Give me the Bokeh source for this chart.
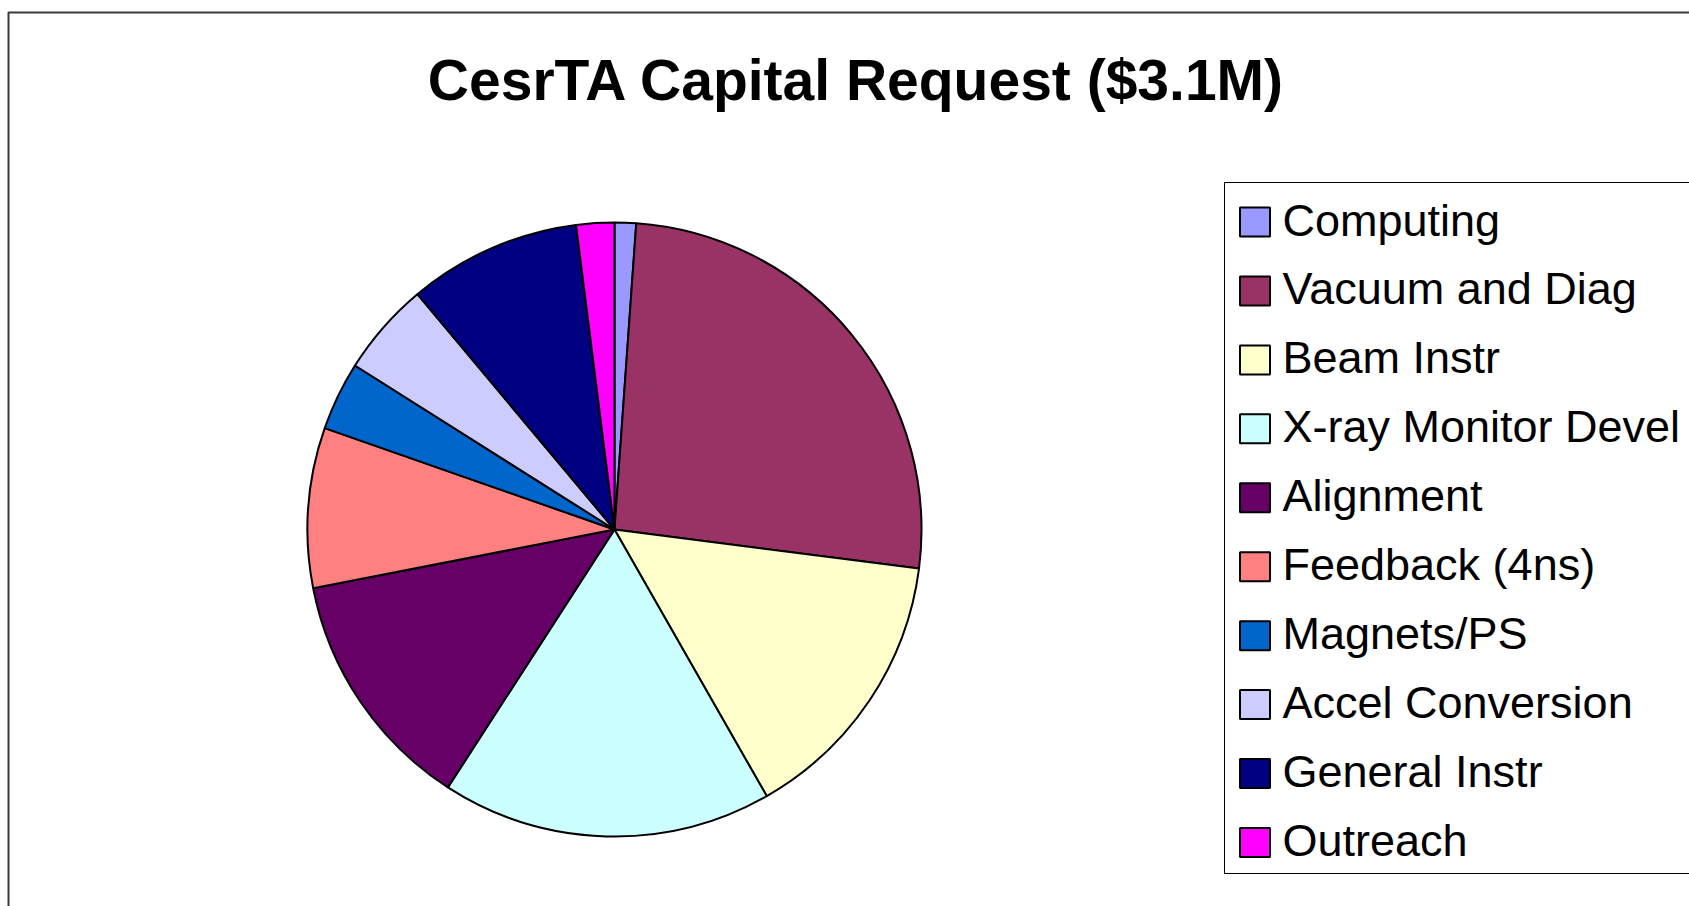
import math
from bokeh.plotting import figure
from bokeh.models import Range1d, ColumnDataSource
from bokeh.core.properties import value
from bokeh.embed import file_html
from bokeh.resources import INLINE

# ---- data (thousands of $, total ~ $3.1M) ----
categories = ["Computing", "Vacuum and Diag", "Beam Instr", "X-ray Monitor Devel",
              "Alignment", "Feedback (4ns)", "Magnets/PS", "Accel Conversion",
              "General Instr", "Outreach"]
amounts = [35, 803, 456, 539, 397, 261, 112, 153, 282, 62]
colors = ["#9999FF", "#993366", "#FFFFCC", "#CCFFFF", "#660066",
          "#FF8080", "#0066CC", "#CCCCFF", "#000080", "#FF00FF"]
title_text = "CesrTA Capital Request ($3.1M)"

W, H = 1689, 906
FONT = "Liberation Sans"

def Y(full_y):
    return H - full_y

def X(full_x):
    return full_x

p = figure(width=W, height=H, output_backend="svg", toolbar_location=None,
           x_range=Range1d(0, W), y_range=Range1d(0, H),
           x_axis_location=None, y_axis_location=None, min_border=0)
p.grid.visible = False
p.outline_line_color = None
p.background_fill_color = "white"
p.border_fill_color = "white"

# outer chart frame (only top/left visible within window)
p.line(x=[X(8), X(8), X(1800)], y=[Y(2000), Y(12), Y(12)],
       line_color="#3a3a3a", line_width=2)

# ---- pie ----
total = float(sum(amounts))
cum = [0.0]
for a in amounts:
    cum.append(cum[-1] + a / total * 2 * math.pi)
starts = [math.pi / 2 - cum[i + 1] for i in range(len(amounts))]
ends = [math.pi / 2 - cum[i] for i in range(len(amounts))]
src = ColumnDataSource(dict(start=starts, end=ends, color=colors, cat=categories))
cx, cy, r = X(614), Y(529), 307
p.wedge(x=cx, y=cy, radius=r, start_angle="start", end_angle="end",
        direction="anticlock", fill_color="color", line_color="black",
        line_width=2, source=src)

# ---- title ----
p.text(x=[X(856)], y=[Y(79)], text=[title_text], text_font=value(FONT),
       text_font_style="bold", text_font_size="57px", text_align="center",
       text_baseline="middle", text_color="black")

# ---- legend ----
p.quad(left=[X(1224)], right=[X(1800)], top=[Y(182)], bottom=[Y(873)],
       fill_color="white", line_color="black", line_width=1)
step = 68.94
n = len(categories)
sq_x = [X(1254.5)] * n
sq_y = [Y(221.5 + i * step) for i in range(n)]
p.rect(x=sq_x, y=sq_y, width=30, height=29, fill_color=colors,
       line_color="black", line_width=2)
tx = [X(1282)] * n
ty = [Y(219.5 + i * step) for i in range(n)]
p.text(x=tx, y=ty, text=categories, text_font=value(FONT),
       text_font_size="45px", text_align="left", text_baseline="middle",
       text_color="black")

open("out.html", "w").write(file_html(p, INLINE))
